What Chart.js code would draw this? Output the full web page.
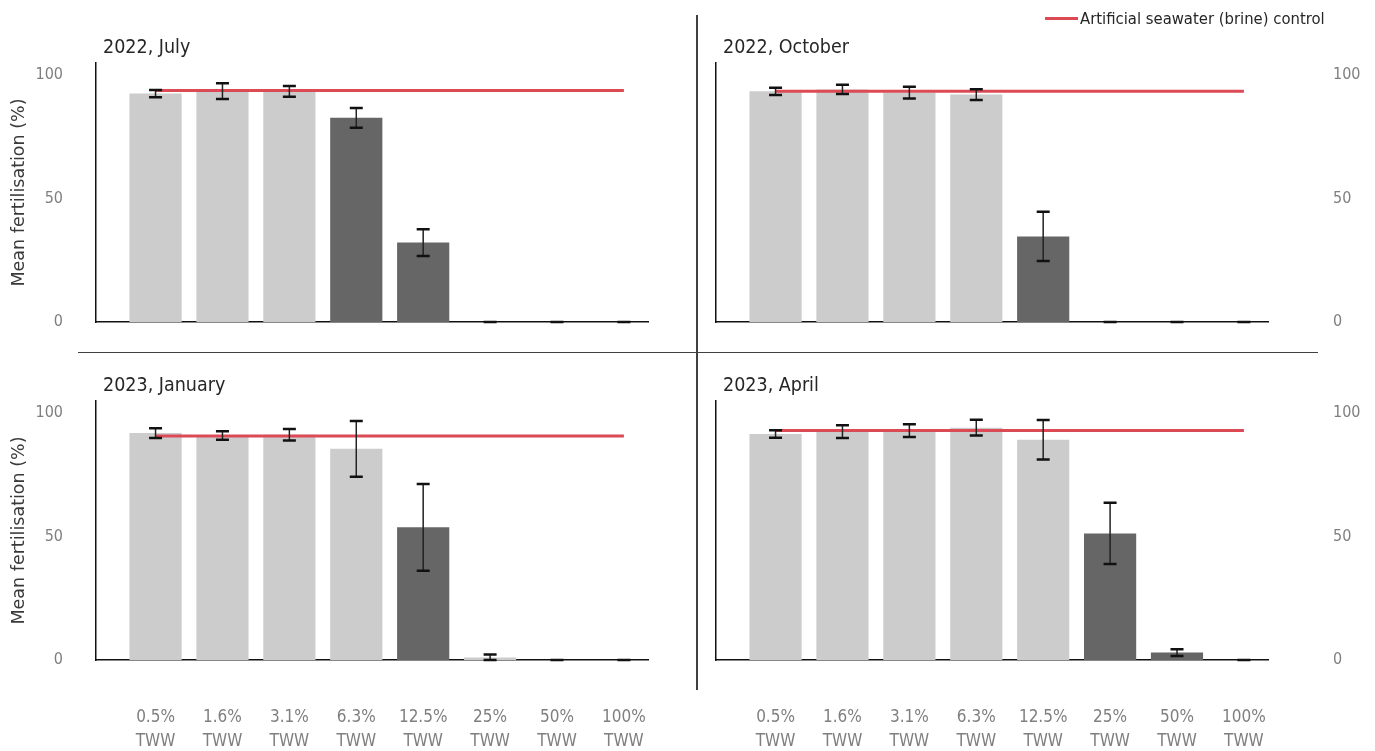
<!DOCTYPE html>
<html>
<head>
<meta charset="utf-8">
<script src="https://cdn.jsdelivr.net/npm/chart.js@4.4.1/dist/chart.umd.min.js"></script>
<style>
  html, body { margin: 0; padding: 0; background: #ffffff; }
  #page { position: relative; width: 1375px; height: 751px; overflow: hidden; background: #fff; }
  canvas { position: absolute; }
  .panel-title { position: absolute; font-family: 'Liberation Sans Narrow', 'DejaVu Sans Condensed', Roboto, sans-serif; font-size: 19.5px; color: #262626; line-height: 22px; white-space: nowrap; }
  .legend { position: absolute; left: 1045px; top: 7px; height: 22px; display: flex; align-items: center; font-family: 'Liberation Sans Narrow', 'DejaVu Sans Condensed', Roboto, sans-serif; font-size: 16.5px; color: #262626; white-space: nowrap; }
  .legend .swatch { width: 33px; height: 3px; background: #dc4a56; margin-right: 2px; }
  .rule { position: absolute; background: #404040; }
</style>
</head>
<body>
<div id="page">
  <canvas id="julyChart" width="690" height="350" style="left:0px;top:0px"></canvas>
  <canvas id="octoberChart" width="685" height="350" style="left:690px;top:0px"></canvas>
  <canvas id="januaryChart" width="690" height="401" style="left:0px;top:350px"></canvas>
  <canvas id="aprilChart" width="685" height="401" style="left:690px;top:350px"></canvas>

  <div class="panel-title" style="left:103px;top:36px">2022, July</div>
  <div class="panel-title" style="left:723px;top:36px">2022, October</div>
  <div class="panel-title" style="left:103px;top:374px">2023, January</div>
  <div class="panel-title" style="left:723px;top:374px">2023, April</div>

  <div class="legend"><span class="swatch"></span><span>Artificial seawater (brine) control</span></div>

  <div class="rule" style="left:696px;top:15px;width:1.5px;height:675px"></div>
  <div class="rule" style="left:78px;top:351.5px;width:1240px;height:1.5px"></div>
</div>

<script>
// Treated wastewater (TWW) dilutions tested
const categories = ['0.5%', '1.6%', '3.1%', '6.3%', '12.5%', '25%', '50%', '100%'];
const unitLabel = 'TWW';
const yTicks = [0, 50, 100];

// 2022, July
const julyMeans   = [92.6, 93.6, 93.5, 82.8, 32.2, 0, 0, 0];
const julyErrors  = [1.5, 3.2, 2.2, 4.0, 5.4, 0, 0, 0];
const julyControl = 93.9;
const julyDiffers = [false, false, false, true, true, false, false, false];

// 2022, October
const octoberMeans   = [93.5, 94.3, 93.0, 92.2, 34.7, 0, 0, 0];
const octoberErrors  = [1.5, 1.9, 2.4, 2.2, 10.0, 0, 0, 0];
const octoberControl = 93.5;
const octoberDiffers = [false, false, false, false, true, false, false, false];

// 2023, January
const januaryMeans   = [92.0, 91.0, 91.3, 85.6, 53.8, 1.0, 0, 0];
const januaryErrors  = [2.0, 1.7, 2.3, 11.3, 17.6, 1.2, 0, 0];
const januaryControl = 90.8;
const januaryDiffers = [false, false, false, false, true, false, false, false];

// 2023, April
const aprilMeans   = [91.6, 92.6, 93.0, 94.2, 89.3, 51.3, 3.0, 0];
const aprilErrors  = [1.5, 2.6, 2.6, 3.2, 8.0, 12.4, 1.4, 0];
const aprilControl = 93.0;
const aprilDiffers = [false, false, false, false, false, true, true, false];

const LIGHT = '#cccccc';
const DARK = '#666666';
const CONTROL_RED = '#dc4a56';
const TICK_FONT = "'Liberation Sans Narrow', 'DejaVu Sans Condensed', Roboto, sans-serif";

// Draws mean ± error whiskers on top of the bars
const errorBarPlugin = {
  id: 'errorBars',
  afterDatasetsDraw(chart, args, opts) {
    const { ctx } = chart;
    const x = chart.scales.x, y = chart.scales.y;
    ctx.save();
    opts.means.forEach((m, i) => {
      const e = opts.errors[i];
      const px = x.getPixelForValue(i);
      const top = y.getPixelForValue(m + e);
      const bot = y.getPixelForValue(Math.max(0, m - e));
      ctx.strokeStyle = '#222';
      ctx.lineWidth = 1.5;
      ctx.beginPath();
      ctx.moveTo(px, top);
      ctx.lineTo(px, bot);
      ctx.stroke();
      ctx.strokeStyle = '#111';
      ctx.lineWidth = 2.5;
      ctx.beginPath();
      ctx.moveTo(px - 6.5, top); ctx.lineTo(px + 6.5, top);
      ctx.moveTo(px - 6.5, bot); ctx.lineTo(px + 6.5, bot);
      ctx.stroke();
    });
    ctx.restore();
  }
};

// keeps tick padding from reserving extra room above/below the plot
function fixVertical(width) {
  return s => {
    s.width = width;
    s.paddingTop = 0;
    s.paddingBottom = 0;
  };
}

function makePanel(id, means, errors, control, differs, side, showCategories) {
  const isLeft = side === 'left';
  const canvas = document.getElementById(id);
  const barData = means.map((v, i) => ({ x: i, y: v }));
  const controlData = [{ x: 0, y: control }, { x: categories.length - 1, y: control }];

  const scales = {
    x: {
      type: 'linear',
      offset: false,
      min: -0.89,
      max: 7.36,
      grid: { display: false, drawTicks: false },
      border: { display: true, color: '#111', width: 1.5 },
      afterBuildTicks: s => { s.ticks = categories.map((_, i) => ({ value: i })); },
      afterFit: s => {
        s.height = showCategories ? 91 : 0;
        s.paddingLeft = 0;
        s.paddingRight = 0;
      },
      ticks: {
        display: showCategories,
        autoSkip: false,
        maxRotation: 0,
        padding: 46,
        color: '#7f7f7f',
        font: { family: TICK_FONT, size: 17, lineHeight: 1.4 },
        callback: v => [categories[v], unitLabel]
      }
    },
    y: {
      position: 'left',
      min: 0,
      max: 105,
      grid: { display: false, drawTicks: false },
      border: { display: true, color: '#111', width: 1.5 },
      afterBuildTicks: s => { s.ticks = yTicks.map(v => ({ value: v })); },
      afterFit: fixVertical(isLeft ? 87 : 0),
      ticks: {
        display: isLeft,
        padding: 33,
        color: '#7f7f7f',
        font: { family: TICK_FONT, size: 16 }
      },
      title: {
        display: isLeft,
        text: 'Mean fertilisation (%)',
        color: '#3a3a3a',
        padding: 0,
        font: { family: "'DejaVu Sans', sans-serif", size: 17.5 }
      }
    }
  };
  if (!isLeft) {
    scales.y2 = {
      position: 'right',
      min: 0,
      max: 105,
      grid: { display: false, drawTicks: false },
      border: { display: false },
      afterBuildTicks: s => { s.ticks = yTicks.map(v => ({ value: v })); },
      afterFit: fixVertical(107),
      ticks: {
        padding: 65,
        color: '#7f7f7f',
        font: { family: TICK_FONT, size: 16 }
      }
    };
  }

  const bottomPad = showCategories ? 0 : 28;
  const topPad = showCategories ? 51 : 63;

  return new Chart(canvas, {
    type: 'bar',
    data: {
      datasets: [
        {
          type: 'line',
          data: controlData,
          borderColor: CONTROL_RED,
          borderWidth: 3,
          pointRadius: 0,
          order: 0
        },
        {
          type: 'bar',
          data: barData,
          backgroundColor: differs.map(d => d ? DARK : LIGHT),
          borderWidth: 0,
          barPercentage: 0.78,
          categoryPercentage: 1,
          order: 1
        }
      ]
    },
    options: {
      responsive: false,
      animation: false,
      devicePixelRatio: 1,
      layout: {
        padding: isLeft
          ? { left: 9, right: 42, top: topPad, bottom: bottomPad }
          : { left: 26, right: 0, top: topPad, bottom: bottomPad }
      },
      scales,
      plugins: {
        legend: { display: false },
        tooltip: { enabled: false },
        errorBars: { means, errors }
      }
    },
    plugins: [errorBarPlugin]
  });
}

makePanel('julyChart', julyMeans, julyErrors, julyControl, julyDiffers, 'left', false);
makePanel('octoberChart', octoberMeans, octoberErrors, octoberControl, octoberDiffers, 'right', false);
makePanel('januaryChart', januaryMeans, januaryErrors, januaryControl, januaryDiffers, 'left', true);
makePanel('aprilChart', aprilMeans, aprilErrors, aprilControl, aprilDiffers, 'right', true);
</script>
</body>
</html>
